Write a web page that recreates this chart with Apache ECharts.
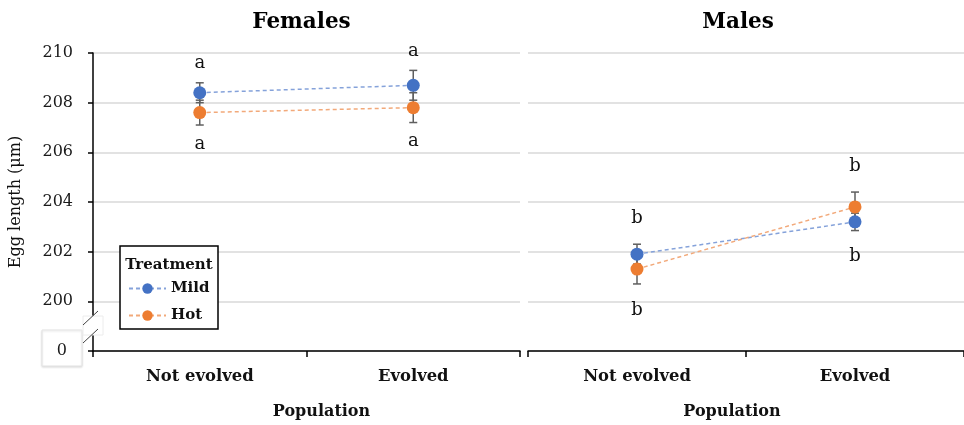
<!DOCTYPE html>
<html>
<head>
<meta charset="utf-8">
<script src="https://cdn.jsdelivr.net/npm/echarts@6/dist/echarts.min.js"></script>
<style>
  html, body { margin: 0; padding: 0; background: #fff; }
  #chart { width: 964px; height: 425px; }
</style>
</head>
<body>
<div id="chart"></div>
<script>
// Egg length (µm) by population and rearing treatment, with standard-error bars
const categories = ['Not evolved', 'Evolved'];

const femalesMild = [208.4, 208.7];
const femalesMildErr = [0.4, 0.6];
const femalesHot = [207.6, 207.8];
const femalesHotErr = [0.5, 0.6];

const malesMild = [201.9, 203.2];
const malesMildErr = [0.4, 0.35];
const malesHot = [201.3, 203.8];
const malesHotErr = [0.6, 0.6];

// significance groups, written above and below each pair of points
const femalesLetters = ['a', 'a'];
const malesLetters = ['b', 'b'];

// value axis: the lowest tick stands in for zero (broken axis)
const yMin = 198, yMax = 210, yStep = 2;
const brokenTickLabel = '0';

const FONT = '"DejaVu Serif", serif';
const BLUE = '#4472C4', ORANGE = '#ED7D31';
const BLUE_LINE = '#85A2DA', ORANGE_LINE = '#F2A97A';
const ERR_COLOR = '#5f5f5f';

const layout = {
  left: { left: 93, top: 53, width: 427, height: 300 },
  right: { left: 528, top: 53, width: 440, height: 300 }
};

const chart = echarts.init(document.getElementById('chart'), null, { renderer: 'canvas' });

function errorBarItem(params, api) {
  const x = api.value(0), v = api.value(1), e = api.value(2);
  const hi = api.coord([x, v + e]);
  const lo = api.coord([x, v - e]);
  const w = 4;
  const style = { stroke: ERR_COLOR, lineWidth: 1.5 };
  return {
    type: 'group',
    children: [
      { type: 'line', shape: { x1: hi[0], y1: hi[1], x2: lo[0], y2: lo[1] }, style },
      { type: 'line', shape: { x1: hi[0] - w, y1: hi[1], x2: hi[0] + w, y2: hi[1] }, style },
      { type: 'line', shape: { x1: lo[0] - w, y1: lo[1], x2: lo[0] + w, y2: lo[1] }, style }
    ]
  };
}

function errorSeries(values, errs, axisIdx) {
  return {
    type: 'custom',
    xAxisIndex: axisIdx, yAxisIndex: axisIdx,
    z: 1,
    silent: true,
    renderItem: errorBarItem,
    encode: { x: 0, y: 1 },
    data: values.map((v, i) => [i, v, errs[i]])
  };
}

function lineSeries(name, values, axisIdx, color, lineColor) {
  return {
    name, type: 'line',
    xAxisIndex: axisIdx, yAxisIndex: axisIdx,
    data: values,
    symbol: 'circle', symbolSize: 13,
    itemStyle: { color },
    lineStyle: { color: lineColor, width: 1.5, type: [4, 3] },
    z: 2,
    emphasis: { disabled: true }
  };
}

// letters sit a fixed distance beyond the outermost error-bar end of each category
function letterSeries(letters, groups, axisIdx, gap) {
  const data = letters.map((_, i) => {
    let top = -Infinity, bottom = Infinity;
    groups.forEach(([vals, errs]) => {
      top = Math.max(top, vals[i] + errs[i]);
      bottom = Math.min(bottom, vals[i] - errs[i]);
    });
    return [i, top, bottom];
  });
  return {
    type: 'custom',
    xAxisIndex: axisIdx, yAxisIndex: axisIdx,
    silent: true, z: 3,
    encode: { x: 0, y: [1, 2] },
    data,
    renderItem(params, api) {
      const i = api.value(0);
      const t = api.coord([i, api.value(1)]);
      const b = api.coord([i, api.value(2)]);
      const letter = letters[params.dataIndex];
      const st = { font: '18px ' + FONT, fill: '#111', align: 'center', verticalAlign: 'middle' };
      return {
        type: 'group',
        children: [
          { type: 'text', style: Object.assign({ text: letter, x: t[0], y: t[1] - gap }, st) },
          { type: 'text', style: Object.assign({ text: letter, x: b[0], y: b[1] + gap }, st) }
        ]
      };
    }
  };
}

function xAxis(gridIndex, namePadding) {
  return {
    type: 'category', gridIndex, data: categories,
    boundaryGap: true,
    axisLine: { lineStyle: { color: '#000', width: 1.5 } },
    axisTick: { show: true, length: 6, lineStyle: { color: '#000', width: 1.5 } },
    axisLabel: { margin: 18, fontFamily: FONT, fontWeight: 'bold', fontSize: 16.4, color: '#111' },
    name: 'Population', nameLocation: 'middle', nameGap: 53,
    nameTextStyle: { fontFamily: FONT, fontWeight: 'bold', fontSize: 16, color: '#111', padding: namePadding }
  };
}

const option = {
  animation: false,
  backgroundColor: '#fff',
  grid: [
    Object.assign({ containLabel: false }, layout.left),
    Object.assign({ containLabel: false }, layout.right)
  ],
  xAxis: [xAxis(0, [0, 0, 0, 30]), xAxis(1, [0, 28, 0, 0])],
  yAxis: [
    {
      type: 'value', gridIndex: 0, min: yMin, max: yMax, interval: yStep,
      axisLine: { show: true, lineStyle: { color: '#000', width: 1.5 } },
      axisTick: { show: true, length: 5, lineStyle: { color: '#000', width: 1.5 } },
      splitLine: { lineStyle: { color: '#d9d9d9', width: 1.5 } },
      axisLabel: {
        margin: 20, fontFamily: FONT, fontSize: 16, color: '#1a1a1a',
        formatter: v => (v === yMin ? '{z|' + brokenTickLabel + '}' : String(v)),
        rich: { z: { fontFamily: FONT, fontSize: 16, color: '#1a1a1a', padding: [0, 6, 0, 0] } }
      },
      name: 'Egg length (μm)', nameLocation: 'middle', nameGap: 60,
      nameTextStyle: { fontFamily: FONT, fontSize: 16, color: '#111', padding: [0, 0, 9, 0] }
    },
    {
      type: 'value', gridIndex: 1, min: yMin, max: yMax, interval: yStep,
      axisLine: { show: false }, axisTick: { show: false }, axisLabel: { show: false },
      splitLine: { lineStyle: { color: '#d9d9d9', width: 1.5 } }
    }
  ],
  legend: {
    data: ['Mild', 'Hot'],
    orient: 'vertical', left: 128, top: 281,
    padding: 0, itemWidth: 37, itemHeight: 13, itemGap: 12,
    selectedMode: false, z: 6,
    textStyle: { fontFamily: FONT, fontWeight: 'bold', fontSize: 15, color: '#111' }
  },
  series: [
    errorSeries(femalesMild, femalesMildErr, 0),
    errorSeries(femalesHot, femalesHotErr, 0),
    errorSeries(malesMild, malesMildErr, 1),
    errorSeries(malesHot, malesHotErr, 1),
    lineSeries('Mild', femalesMild, 0, BLUE, BLUE_LINE),
    lineSeries('Hot', femalesHot, 0, ORANGE, ORANGE_LINE),
    lineSeries('Mild', malesMild, 1, BLUE, BLUE_LINE),
    lineSeries('Hot', malesHot, 1, ORANGE, ORANGE_LINE),
    letterSeries(femalesLetters, [[femalesMild, femalesMildErr], [femalesHot, femalesHotErr]], 0, 19),
    letterSeries(malesLetters, [[malesMild, malesMildErr], [malesHot, malesHotErr]], 1, 26)
  ]
};

chart.setOption(option);

// panel titles, legend frame and the axis-break marks
const yBase = chart.convertToPixel({ yAxisIndex: 0 }, yMin);
const axX = layout.left.left;
const leftCenter = layout.left.left + layout.left.width / 2;
const rightCenter = layout.right.left + layout.right.width / 2;
const titleStyle = { font: 'bold 21.5px ' + FONT, fill: '#000', align: 'center', verticalAlign: 'middle' };

chart.setOption({
  graphic: [
    { type: 'text', x: leftCenter - 5, y: 22, style: Object.assign({ text: 'Females' }, titleStyle) },
    { type: 'text', x: rightCenter - 10, y: 22, style: Object.assign({ text: 'Males' }, titleStyle) },
    {
      type: 'rect', z: 5, shape: { x: 120, y: 246, width: 98, height: 83 },
      style: { fill: '#fff', stroke: '#000', lineWidth: 1.5 }
    },
    {
      type: 'text', z: 6, x: 169, y: 265,
      style: { text: 'Treatment', font: 'bold 15px ' + FONT, fill: '#111', align: 'center', verticalAlign: 'middle' }
    },
    {
      type: 'rect', z: -1, shape: { x: axX - 51, y: yBase - 21, width: 40, height: 36 },
      style: { fill: '#fff', stroke: '#e4e4e4', lineWidth: 1, shadowBlur: 2, shadowColor: 'rgba(0,0,0,0.12)', shadowOffsetY: 1 }
    },
    {
      type: 'rect', z: 5, shape: { x: axX - 10, y: yBase - 35, width: 20, height: 19 },
      style: { fill: '#fff', stroke: '#ececec', lineWidth: 1 }
    },
    {
      type: 'line', z: 6, shape: { x1: axX - 10, y1: yBase - 26, x2: axX + 5, y2: yBase - 40 },
      style: { stroke: '#444', lineWidth: 1 }
    },
    {
      type: 'line', z: 6, shape: { x1: axX - 10, y1: yBase - 8, x2: axX + 5, y2: yBase - 22 },
      style: { stroke: '#444', lineWidth: 1 }
    }
  ]
});
</script>
</body>
</html>
